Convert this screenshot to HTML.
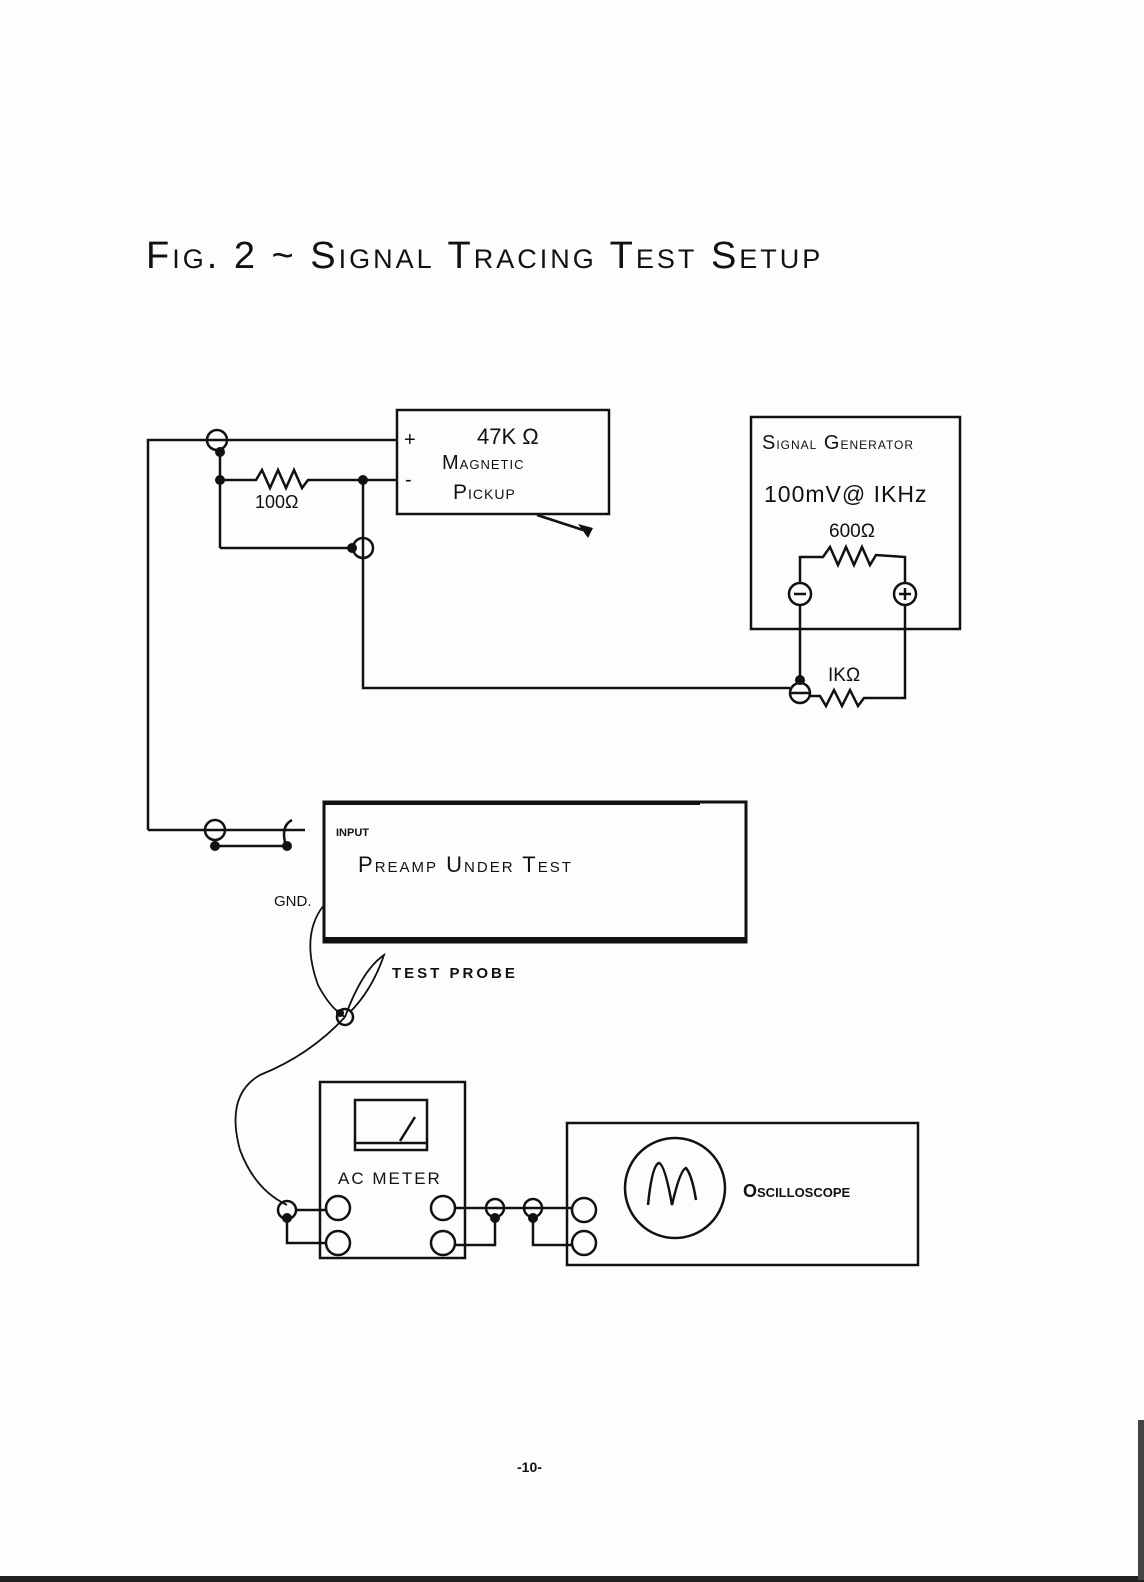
<!DOCTYPE html>
<html><head><style>
html,body{margin:0;padding:0;background:#fff;}
svg{display:block}
text{font-family:"Liberation Sans",sans-serif;fill:#111}
</style></head><body>
<svg width="1144" height="1582" viewBox="0 0 1144 1582" xmlns="http://www.w3.org/2000/svg">
<rect width="1144" height="1582" fill="#fdfdfd"/>
<text x="146" y="268" font-size="38" letter-spacing="3">F<tspan font-size="27">IG</tspan>. 2 ~ S<tspan font-size="27">IGNAL</tspan>  T<tspan font-size="27">RACING</tspan> T<tspan font-size="27">EST</tspan> S<tspan font-size="27">ETUP</tspan></text>
<g stroke="#111" stroke-width="2.5" fill="none">
<rect x="397" y="410" width="212" height="104"/>
<rect x="751" y="417" width="209" height="212"/>
<rect x="324" y="802" width="422" height="140" stroke-width="3"/>
<line x1="324" y1="803" x2="700" y2="803" stroke-width="4"/>
<line x1="324" y1="939" x2="746" y2="939" stroke-width="4"/>
<rect x="320" y="1082" width="145" height="176"/>
<rect x="567" y="1123" width="351" height="142"/>
<polyline points="148,830 148,440 397,440"/>
<circle cx="217" cy="440" r="10"/>
<line x1="220" y1="452" x2="220" y2="548"/>
<polyline points="220,480 256,480 262,470 270,488 278,470 286,488 294,470 302,488 308,480 397,480"/>
<polyline points="363,480 363,688 790,688"/>
<polyline points="220,548 352,548"/>
<circle cx="363" cy="548" r="10"/>
<line x1="537" y1="515" x2="583" y2="530"/>
<circle cx="800" cy="594" r="11"/>
<circle cx="905" cy="594" r="11"/>
<line x1="794" y1="594" x2="806" y2="594"/>
<line x1="899" y1="594" x2="911" y2="594"/>
<line x1="905" y1="588" x2="905" y2="600"/>
<polyline points="800,583 800,557 823,557 830,547 838,565 846,547 854,565 862,547 870,565 876,555 905,557 905,583"/>
<polyline points="800,605 800,680"/>
<circle cx="800" cy="693" r="10"/>
<line x1="790" y1="693" x2="810" y2="693"/>
<polyline points="810,696 820,696 826,706 834,690 842,706 850,690 858,706 864,698 905,698 905,605"/>
<polyline points="148,830 305,830"/>
<circle cx="215" cy="830" r="10"/>
<path d="M292,820 Q280,826 286,846"/>
<line x1="215" y1="846" x2="287" y2="846"/>
<path d="M324,905 Q300,935 318,985 Q330,1008 345,1017" stroke-width="1.8"/>
<path d="M345,1017 Q362,970 384,955 Q372,990 350,1012" stroke-width="1.8"/>
<circle cx="345" cy="1017" r="8"/>
<path d="M345,1017 Q310,1055 260,1075 Q225,1095 240,1150 Q255,1190 287,1205" stroke-width="1.8"/>
<rect x="355" y="1100" width="72" height="50"/>
<line x1="355" y1="1143" x2="427" y2="1143"/>
<line x1="400" y1="1141" x2="415" y2="1117"/>
<circle cx="338" cy="1208" r="12"/><circle cx="338" cy="1243" r="12"/>
<circle cx="443" cy="1208" r="12"/><circle cx="443" cy="1243" r="12"/>
<circle cx="287" cy="1210" r="9"/>
<line x1="296" y1="1210" x2="326" y2="1210"/>
<polyline points="287,1218 287,1243 326,1243"/>
<line x1="455" y1="1208" x2="572" y2="1208"/>
<circle cx="495" cy="1208" r="9"/><circle cx="533" cy="1208" r="9"/>
<polyline points="455,1245 495,1245 495,1218"/>
<polyline points="533,1218 533,1245 572,1245"/>
<circle cx="584" cy="1210" r="12"/><circle cx="584" cy="1243" r="12"/>
<circle cx="675" cy="1188" r="50"/>
<path d="M648,1205 Q652,1165 659,1163 Q665,1165 672,1205 Q680,1170 686,1168 Q692,1175 696,1200"/>
</g>
<g fill="#111">
<circle cx="220" cy="452" r="5"/><circle cx="220" cy="480" r="5"/><circle cx="363" cy="480" r="5"/>
<circle cx="352" cy="548" r="5"/>
<polygon points="578,524 593,528 588,538"/>
<circle cx="800" cy="680" r="5"/>
<circle cx="215" cy="846" r="5"/><circle cx="287" cy="846" r="5"/>
<circle cx="340" cy="1013" r="4"/>
<circle cx="287" cy="1218" r="5"/><circle cx="495" cy="1218" r="5"/><circle cx="533" cy="1218" r="5"/>
</g>
<text x="404" y="446" font-size="20">+</text>
<text x="405" y="486" font-size="20">-</text>
<text x="477" y="444" font-size="22">47K Ω</text>
<text x="442" y="469" font-size="20" letter-spacing="1">M<tspan font-size="13">AGNETIC</tspan></text>
<text x="453" y="499" font-size="21" letter-spacing="1">P<tspan font-size="14">ICKUP</tspan></text>
<text x="255" y="508" font-size="18">100Ω</text>
<text x="762" y="449" font-size="20" letter-spacing="1">S<tspan font-size="12">IGNAL</tspan> G<tspan font-size="12">ENERATOR</tspan></text>
<text x="764" y="502" font-size="23" letter-spacing="1">100mV@ IKHz</text>
<text x="829" y="537" font-size="19">600Ω</text>
<text x="828" y="681" font-size="19">IKΩ</text>
<text x="336" y="836" font-size="11" font-weight="bold">INPUT</text>
<text x="358" y="872" font-size="22" letter-spacing="2">P<tspan font-size="15">REAMP</tspan> U<tspan font-size="15">NDER</tspan> T<tspan font-size="15">EST</tspan></text>
<text x="274" y="906" font-size="15">GND.</text>
<text x="392" y="978" font-size="15" letter-spacing="3" font-weight="bold">TEST PROBE</text>
<text x="338" y="1184" font-size="17" letter-spacing="2">AC METER</text>
<text x="743" y="1197" font-size="18" font-weight="bold">O<tspan font-size="13">SCILLOSCOPE</tspan></text>
<text x="517" y="1472" font-size="14" font-weight="bold">-10-</text>
<rect x="0" y="1576" width="1144" height="6" fill="#222"/>
<rect x="1138" y="1420" width="6" height="160" fill="#444"/>
</svg>
</body></html>
